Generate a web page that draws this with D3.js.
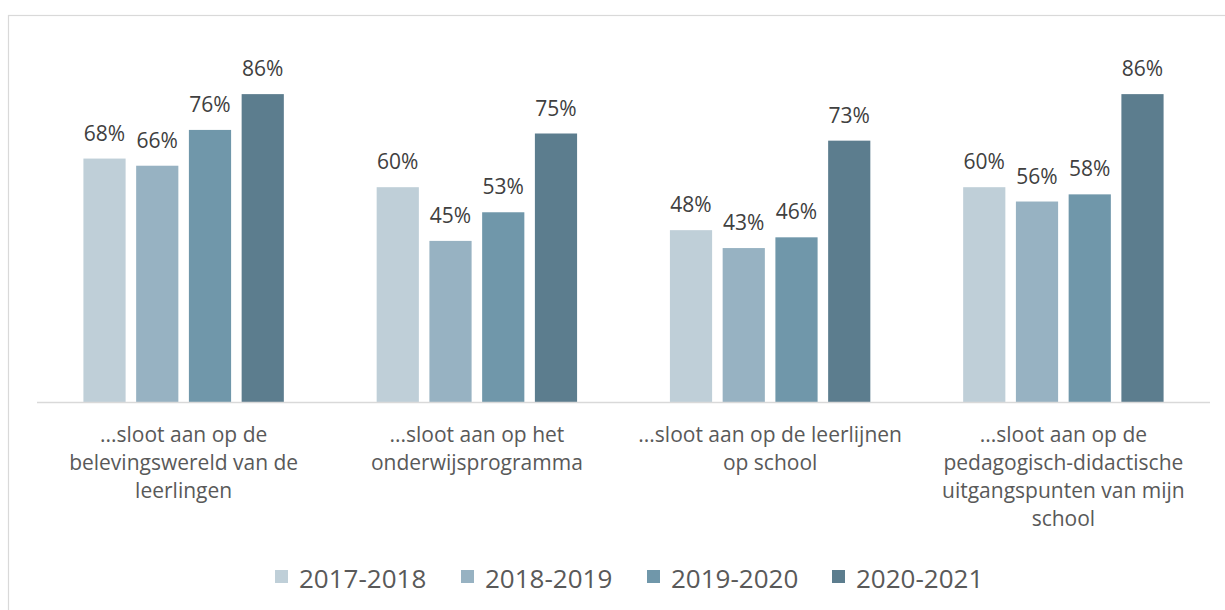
<!DOCTYPE html>
<html>
<head>
<meta charset="utf-8">
<script src="https://cdn.jsdelivr.net/npm/d3@7"></script>
<style>
  html, body { margin: 0; padding: 0; background: #fff; }
  svg { display: block; font-family: "Open Sans", sans-serif; }
</style>
</head>
<body>
<svg id="chart" width="1225" height="610"></svg>
<script>
const categories = [
  ["...sloot aan op de", "belevingswereld van de", "leerlingen"],
  ["...sloot aan op het", "onderwijsprogramma"],
  ["...sloot aan op de leerlijnen", "op school"],
  ["...sloot aan op de", "pedagogisch-didactische", "uitgangspunten van mijn", "school"]
];
const seriesNames = ["2017-2018", "2018-2019", "2019-2020", "2020-2021"];
const s2017 = [68, 60, 48, 60];
const s2018 = [66, 45, 43, 56];
const s2019 = [76, 53, 46, 58];
const s2020 = [86, 75, 73, 86];
const colors = ["#bfcfd8", "#97b2c2", "#7097aa", "#5c7d8e"];

const series = [s2017, s2018, s2019, s2020];
const catKeys = categories.map((c, i) => "c" + i);

const svg = d3.select("#chart");

// outer frame
svg.append("rect")
  .attr("x", 8.5).attr("y", 15.5)
  .attr("width", 1240).attr("height", 620)
  .attr("fill", "none").attr("stroke", "#d9d9d9").attr("stroke-width", 1.2);

const x0 = d3.scaleBand().domain(catKeys).range([37, 1210]).padding(0);
const x1 = d3.scaleBand().domain(seriesNames).range([0, x0.bandwidth()])
  .paddingInner(0.2).paddingOuter(0.88);
const y = d3.scaleLinear().domain([0, 100]).range([402, 44]);

const groups = svg.append("g").selectAll("g")
  .data(catKeys)
  .join("g")
  .attr("transform", d => `translate(${x0(d)},0)`);

groups.selectAll("rect")
  .data((d, i) => seriesNames.map((s, j) => ({ s, j, v: series[j][i] })))
  .join("rect")
  .attr("x", d => x1(d.s))
  .attr("y", d => y(d.v))
  .attr("width", x1.bandwidth())
  .attr("height", d => y(0) - y(d.v))
  .attr("fill", d => colors[d.j]);

groups.selectAll("text.val")
  .data((d, i) => seriesNames.map((s, j) => ({ s, j, v: series[j][i] })))
  .join("text")
  .attr("class", "val")
  .attr("x", d => x1(d.s) + x1.bandwidth() / 2)
  .attr("y", d => y(d.v) - 18)
  .attr("text-anchor", "middle")
  .attr("font-size", 21)
  .attr("fill", "#404040")
  .text(d => d.v + "%");

// axis line
svg.append("line")
  .attr("x1", 37).attr("x2", 1210)
  .attr("y1", y(0) + 0.5).attr("y2", y(0) + 0.5)
  .attr("stroke", "#d9d9d9").attr("stroke-width", 1.5);

// category labels
const catAxis = d3.axisBottom(x0).tickSize(0).tickFormat("");
const axG = svg.append("g").attr("transform", `translate(0,${y(0)})`).call(catAxis);
axG.select(".domain").remove();
axG.selectAll(".tick").each(function (d, i) {
  const t = d3.select(this).append("text")
    .attr("text-anchor", "middle")
    .attr("font-size", 21)
    .attr("fill", "#595959")
    .attr("font-family", "Open Sans, sans-serif");
  categories[i].forEach((line, k) => {
    t.append("tspan").attr("x", 0).attr("y", 40 + k * 28).text(line);
  });
});

// legend
const legendX = [275, 461, 647, 832];
const lg = svg.append("g").selectAll("g")
  .data(seriesNames)
  .join("g")
  .attr("transform", (d, i) => `translate(${legendX[i]},570)`);
lg.append("rect").attr("width", 13).attr("height", 13).attr("fill", (d, i) => colors[i]);
lg.append("text")
  .attr("x", 24).attr("y", 18)
  .attr("font-size", 26)
  .attr("fill", "#595959")
  .text(d => d);
</script>
</body>
</html>
